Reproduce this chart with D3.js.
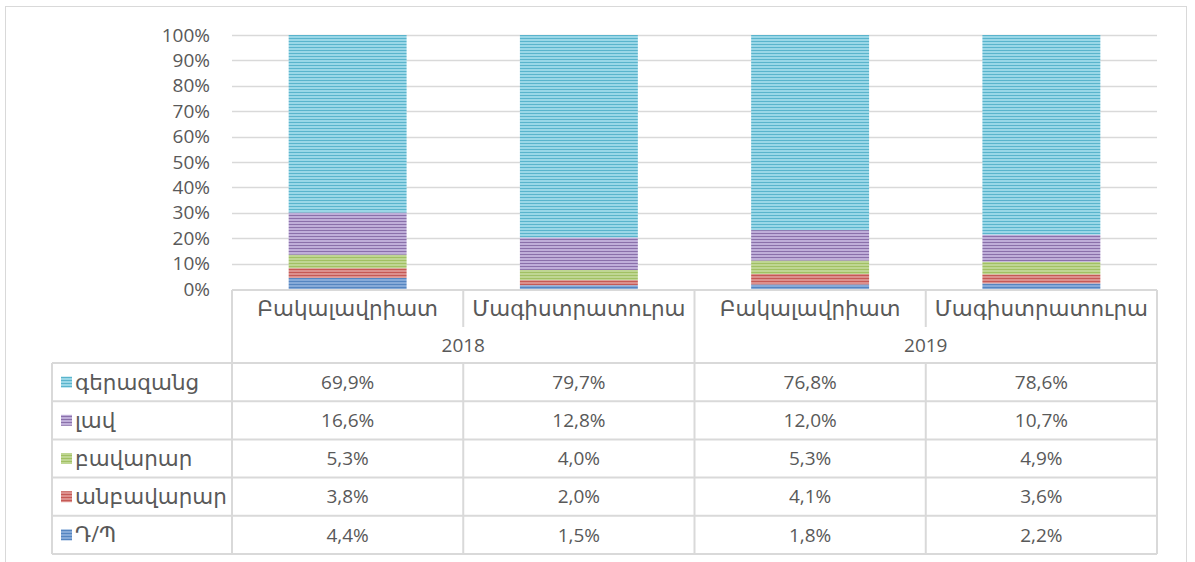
<!DOCTYPE html>
<html>
<head>
<meta charset="utf-8">
<script src="https://cdn.jsdelivr.net/npm/d3@7"></script>
<style>
  body { margin: 0; background: #fff; }
  svg text { font-family: "Open Sans", "DejaVu Sans", sans-serif; fill: #595959; }
  svg text.arm { font-size: 21.5px; }
</style>
</head>
<body>
<div id="chart"></div>
<script>
// data
const years = ["2018", "2019"];
const levels = ["Բակալավրիատ", "Մագիստրատուրա"];
const seriesNames = ["Դ/Պ", "անբավարար", "բավարար", "լավ", "գերազանց"];
const dp = [4.4, 1.5, 1.8, 2.2];
const unsatisfactory = [3.8, 2.0, 4.1, 3.6];
const satisfactory = [5.3, 4.0, 5.3, 4.9];
const good = [16.6, 12.8, 12.0, 10.7];
const excellent = [69.9, 79.7, 76.8, 78.6];
const yTicks = [0, 10, 20, 30, 40, 50, 60, 70, 80, 90, 100];

const seriesValues = [dp, unsatisfactory, satisfactory, good, excellent];
const colors = [
  { light: "#86aad8", dark: "#5585c0" },
  { light: "#dc908d", dark: "#c55955" },
  { light: "#bfd693", dark: "#a1c063" },
  { light: "#bfaed9", dark: "#8a70aa" },
  { light: "#9ad7e7", dark: "#5ab4cc" },
];

// columns = year x level
const columns = [];
years.forEach((yr) => levels.forEach((lv) => columns.push({ key: yr + "|" + lv, year: yr, level: lv })));

const rows = columns.map((c, i) => {
  const r = { key: c.key };
  seriesNames.forEach((s, j) => (r[s] = seriesValues[j][i]));
  return r;
});

const W = 1195, H = 562;
const svg = d3.select("#chart").append("svg").attr("width", W).attr("height", H);

// pattern fills (stripes)
const defs = svg.append("defs");
colors.forEach((c, i) => {
  const p = defs.append("pattern")
    .attr("id", "pat" + i)
    .attr("patternUnits", "userSpaceOnUse")
    .attr("width", 8).attr("height", 3);
  p.append("rect").attr("width", 8).attr("height", 3).attr("fill", c.light);
  p.append("rect").attr("y", 2).attr("width", 8).attr("height", 1).attr("fill", c.dark);
});

// outer frame
svg.append("rect")
  .attr("x", 5.5).attr("y", 6.5).attr("width", 1181).attr("height", 600)
  .attr("fill", "none").attr("stroke", "#d9d9d9");

const plotLeft = 232, plotRight = 1157;
const x = d3.scaleBand().domain(columns.map((c) => c.key))
  .range([plotLeft, plotRight]).paddingInner(0.49).paddingOuter(0.245);
const y = d3.scaleLinear().domain([0, 100]).range([289, 35]);

// gridlines
svg.append("g").selectAll("line").data(yTicks.slice(1)).join("line")
  .attr("x1", plotLeft).attr("x2", plotRight)
  .attr("y1", (d) => Math.round(y(d)) + 0.5).attr("y2", (d) => Math.round(y(d)) + 0.5)
  .attr("stroke", "#d9d9d9").attr("stroke-width", 1.5);

// y axis labels
svg.append("g").selectAll("text").data(yTicks).join("text")
  .attr("x", 210).attr("y", (d) => y(d))
  .attr("dy", "0.35em").attr("text-anchor", "end")
  .style("font-size", "19px")
  .text((d) => d + "%");

// bars
const stacked = d3.stack().keys(seriesNames)(rows);
svg.append("g").selectAll("g").data(stacked).join("g")
  .attr("fill", (d, i) => "url(#pat" + i + ")")
  .selectAll("rect").data((d) => d).join("rect")
  .attr("x", (d) => x(d.data.key))
  .attr("width", x.bandwidth())
  .attr("y", (d) => y(d[1]))
  .attr("height", (d) => y(d[0]) - y(d[1]));

// data table
const step = x.step();
const tableTop = 290, catBottom = 327, headBottom = 363, rowH = 38.2;
const legendLeft = 52;
const nRows = seriesNames.length;
const tableBottom = headBottom + nRows * rowH;
const grid = svg.append("g").attr("stroke", "#d9d9d9").attr("stroke-width", 2);

grid.append("line").attr("x1", plotLeft).attr("x2", plotRight).attr("y1", tableTop).attr("y2", tableTop);
d3.range(nRows + 1).forEach((i) => {
  const yy = headBottom + i * rowH;
  grid.append("line").attr("x1", legendLeft).attr("x2", plotRight).attr("y1", yy).attr("y2", yy);
});
grid.append("line").attr("x1", legendLeft).attr("x2", legendLeft).attr("y1", headBottom).attr("y2", tableBottom);
[plotLeft, plotLeft + 2 * step, plotRight].forEach((xx) =>
  grid.append("line").attr("x1", xx).attr("x2", xx).attr("y1", tableTop).attr("y2", tableBottom));
[plotLeft + step, plotLeft + 3 * step].forEach((xx) => {
  grid.append("line").attr("x1", xx).attr("x2", xx).attr("y1", tableTop).attr("y2", catBottom);
  grid.append("line").attr("x1", xx).attr("x2", xx).attr("y1", headBottom).attr("y2", tableBottom);
});

const center = (key) => x(key) + x.bandwidth() / 2;

// header: levels
svg.append("g").selectAll("text").data(columns).join("text")
  .attr("class", "arm")
  .attr("x", (d) => center(d.key)).attr("y", 308)
  .attr("dy", "0.35em").attr("text-anchor", "middle")
  .text((d) => d.level);

// header: years
svg.append("g").selectAll("text").data(years).join("text")
  .attr("x", (d, i) => plotLeft + step * (2 * i + 1)).attr("y", 345)
  .attr("dy", "0.35em").attr("text-anchor", "middle")
  .style("font-size", "19px")
  .text((d) => d);

const fmt = (v) => d3.format(".1f")(v).replace(".", ",") + "%";
const tableSeries = seriesNames.map((s, i) => ({ name: s, idx: i })).reverse();

tableSeries.forEach((s, r) => {
  const cy = headBottom + rowH * (r + 0.5);
  svg.append("rect")
    .attr("x", 61).attr("y", cy - 5.5).attr("width", 11).attr("height", 11)
    .attr("fill", "url(#pat" + s.idx + ")");
  svg.append("text")
    .attr("class", "arm")
    .attr("x", 75).attr("y", cy).attr("dy", "0.35em")
    .text(s.name);
  svg.append("g").selectAll("text").data(columns).join("text")
    .attr("x", (d) => center(d.key)).attr("y", cy)
    .attr("dy", "0.35em").attr("text-anchor", "middle")
    .style("font-size", "19px")
    .text((d, i) => fmt(seriesValues[s.idx][i]));
});
</script>
</body>
</html>
